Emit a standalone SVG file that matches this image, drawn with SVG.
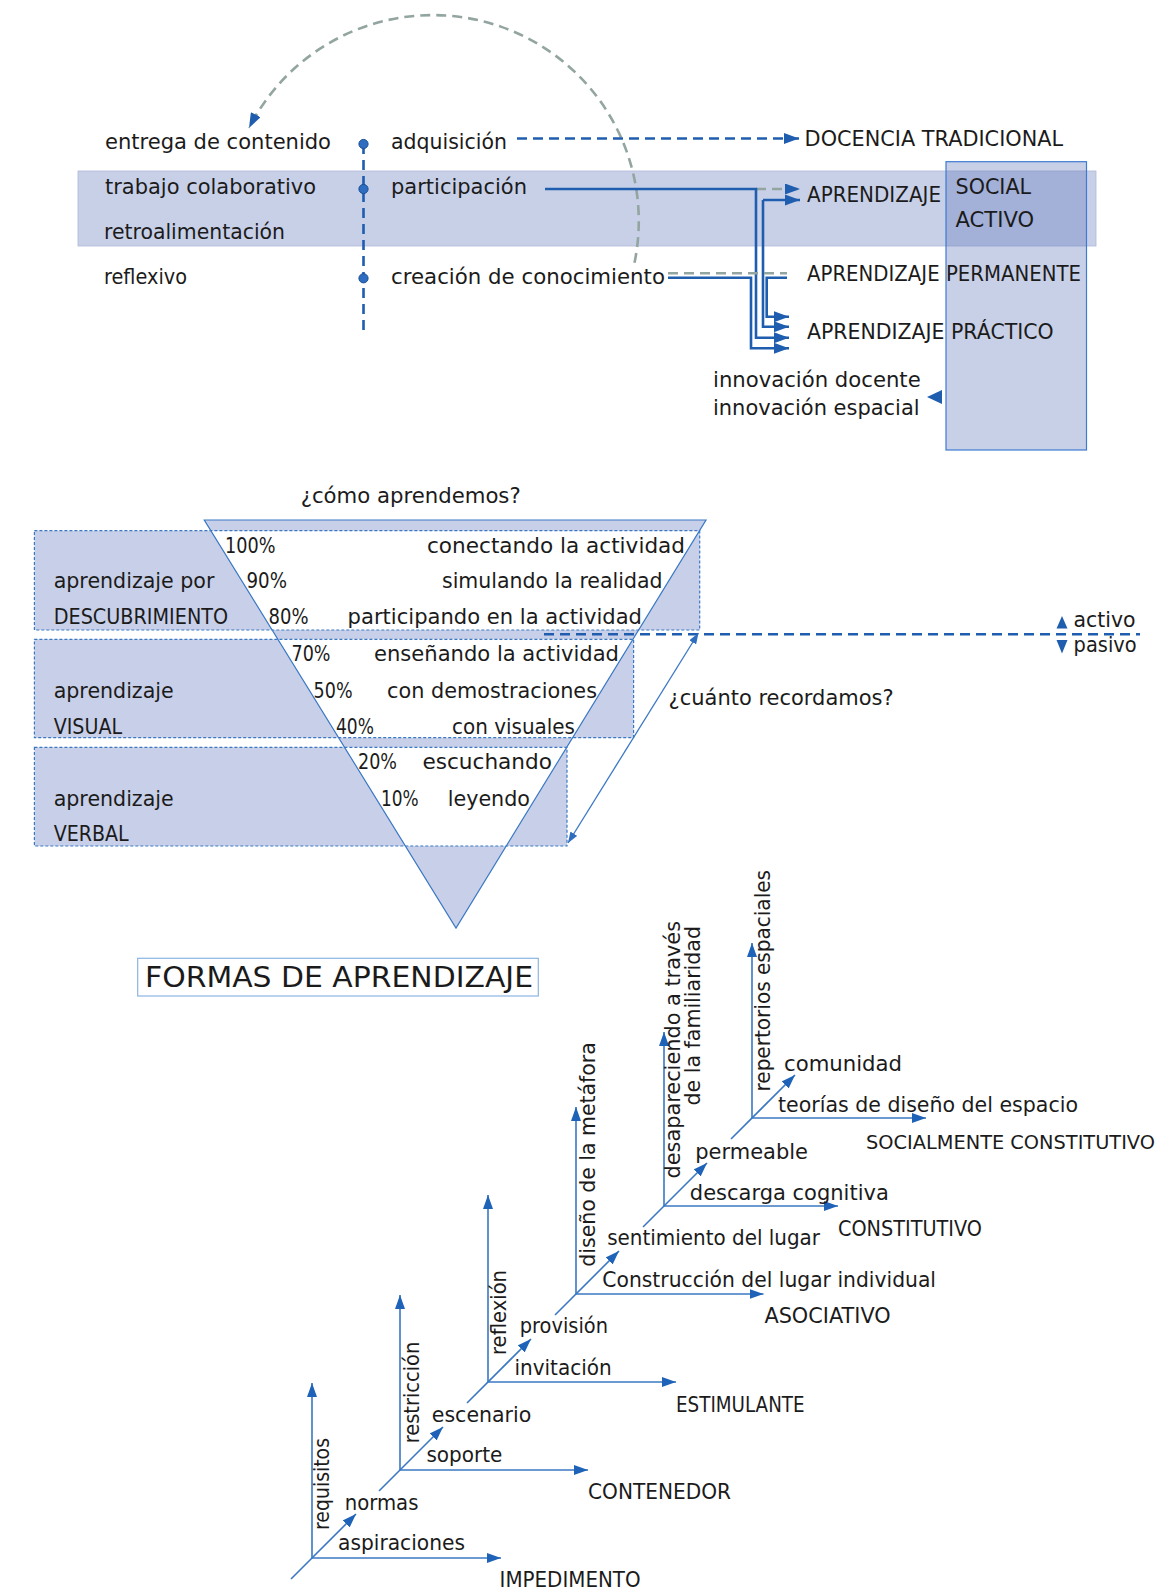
<svg xmlns="http://www.w3.org/2000/svg" width="1167" height="1591" viewBox="0 0 1167 1591">
  <defs>
    <style>
      text { font-family: "DejaVu Sans", "Liberation Sans", sans-serif; font-size: 21px; fill: #1b1b1b; }
      .big { font-size: 29px; }
      .band { fill: #5871B9; fill-opacity: 0.33; }
      .conn { fill: none; stroke: #1F5DAE; stroke-width: 2.6; }
      .dash-b { fill: none; stroke: #1F5DAE; stroke-width: 2.6; stroke-dasharray: 10 6; }
      .dash-g { fill: none; stroke: #93A5A1; stroke-width: 2.6; stroke-dasharray: 10 6; }
      .axis { fill: none; stroke: #3A78C4; stroke-width: 1.6; }
      .thin { fill: none; stroke: #3A78C4; stroke-width: 1.3; }
      .funnel { fill: #C8CFE8; fill-rule: evenodd; stroke: none; }
      .box-d { fill: none; stroke: #3A78C4; stroke-width: 1.2; stroke-dasharray: 3 2; }
      .head { fill: #1F5DAE; }
    </style>
    <marker id="ah" viewBox="0 0 15 11" refX="15" refY="5.5" markerWidth="15" markerHeight="11" markerUnits="userSpaceOnUse" orient="auto">
      <path d="M0,0 L15,5.5 L0,11 Z" fill="#1F5DAE"/>
    </marker>
    <marker id="ab" viewBox="0 0 14 10" refX="14" refY="5" markerWidth="14" markerHeight="10" markerUnits="userSpaceOnUse" orient="auto">
      <path d="M0,0 L14,5 L0,10 Z" fill="#1F63B8"/>
    </marker>
    <marker id="as" viewBox="0 0 11 8" refX="11" refY="4" markerWidth="11" markerHeight="8" markerUnits="userSpaceOnUse" orient="auto-start-reverse">
      <path d="M0,0 L11,4 L0,8 Z" fill="#2F6DBE"/>
    </marker>
  </defs>

  <!-- ===== upper scheme: learning modes ===== -->
  <rect id="band-social" class="band" x="78" y="171" width="1018" height="75" stroke="#AEB7D6" stroke-width="0.8"/>
  <rect id="box-right" class="band" x="946" y="161.7" width="140.5" height="288.3" stroke="#3C7BD0" stroke-width="1.2"/>

  <g id="connectors-top">
    <path class="dash-g" d="M634.5,262.8 A206,206 0 0 0 249,128" marker-end="url(#ah)"/>
    <path class="dash-b" d="M363.5,144 V330" stroke-dasharray="8 5"/>
    <path class="dash-b" d="M517,138.5 H799" marker-end="url(#ah)"/>
    <path class="dash-g" d="M756,189 H800" marker-end="url(#ah)"/>
    <path class="conn" d="M545,189 H756 V337.7 H789" marker-end="url(#ah)"/>
    <path class="conn" d="M763,200 H800" marker-end="url(#ah)"/>
    <path class="conn" d="M763,200 V326.7 H789" marker-end="url(#ah)"/>
    <path class="dash-g" d="M668,273.3 H787"/>
    <path class="conn" d="M668,277.7 H751 V348.3 H789" marker-end="url(#ah)"/>
    <path class="conn" d="M787,277.7 H766.7 V316.7 H789" marker-end="url(#ah)"/>
    <polygon class="head" points="927,397 942,390 942,404"/>
    <circle cx="363.5" cy="144" r="4.6" fill="#2E6DBF" stroke="#1A4F96" stroke-width="1"/>
    <circle cx="363.5" cy="189" r="4.6" fill="#2E6DBF" stroke="#1A4F96" stroke-width="1"/>
    <circle cx="363.5" cy="278.3" r="4.6" fill="#2E6DBF" stroke="#1A4F96" stroke-width="1"/>
  </g>

  <g id="labels-left">
    <text x="105" y="149" textLength="226" lengthAdjust="spacingAndGlyphs">entrega de contenido</text>
    <text x="105" y="194" textLength="211" lengthAdjust="spacingAndGlyphs">trabajo colaborativo</text>
    <text x="104" y="239" textLength="181" lengthAdjust="spacingAndGlyphs">retroalimentación</text>
    <text x="104" y="284" textLength="83" lengthAdjust="spacingAndGlyphs">reflexivo</text>
  </g>
  <g id="labels-mid">
    <text x="391" y="149" textLength="116" lengthAdjust="spacingAndGlyphs">adquisición</text>
    <text x="391" y="194" textLength="136" lengthAdjust="spacingAndGlyphs">participación</text>
    <text x="391" y="283.5" textLength="274" lengthAdjust="spacingAndGlyphs">creación de conocimiento</text>
  </g>
  <g id="node-docencia"><text x="804.6" y="145.7" textLength="258.5" lengthAdjust="spacingAndGlyphs">DOCENCIA TRADICIONAL</text></g>
  <g id="node-social">
    <text x="807" y="201.7" textLength="134" lengthAdjust="spacingAndGlyphs">APRENDIZAJE</text>
    <text x="955.5" y="194" textLength="75.6" lengthAdjust="spacingAndGlyphs">SOCIAL</text>
    <text x="955.5" y="226.7" textLength="78.6" lengthAdjust="spacingAndGlyphs">ACTIVO</text>
  </g>
  <g id="node-permanente"><text x="807" y="281" textLength="274" lengthAdjust="spacingAndGlyphs">APRENDIZAJE PERMANENTE</text></g>
  <g id="node-practico"><text x="807" y="339" textLength="246.6" lengthAdjust="spacingAndGlyphs">APRENDIZAJE PRÁCTICO</text></g>
  <g id="node-innovacion">
    <text x="713" y="386.7" textLength="207.7" lengthAdjust="spacingAndGlyphs">innovación docente</text>
    <text x="713" y="415" textLength="206.6" lengthAdjust="spacingAndGlyphs">innovación espacial</text>
  </g>

  <!-- ===== learning funnel ===== -->
  <g id="funnel">
    <path class="funnel" d="M204.3,520 L706,520 L456,928 Z M34.4,530.7 H699.7 V630 H34.4 Z M34.4,639.3 H633.6 V737.7 H34.4 Z M34.4,747.3 H567 V846 H34.4 Z"/>
    <path d="M204.3,520 L706,520 L456,928 Z" fill="none" stroke="#3A78C4" stroke-width="1.2"/>
    <rect class="box-d" x="34.4" y="530.7" width="665.3" height="99.3"/>
    <rect class="box-d" x="34.4" y="639.3" width="599.2" height="98.4"/>
    <rect class="box-d" x="34.4" y="747.3" width="532.6" height="98.7"/>
  </g>
  <g id="connectors-funnel">
    <path class="dash-b" d="M544,634.3 H1140" stroke-dasharray="10 6"/>
    <path class="thin" d="M568,843 L698.5,633" marker-start="url(#as)" marker-end="url(#as)"/>
    <polygon class="head" points="1056.5,628.5 1067.5,628.5 1062,616"/>
    <polygon class="head" points="1056.5,640 1067.5,640 1062,653.5"/>
  </g>
  <g id="funnel-labels">
    <text x="300.7" y="502.7" textLength="220" lengthAdjust="spacingAndGlyphs">¿cómo aprendemos?</text>
    <text x="225" y="552.7" textLength="50.5" lengthAdjust="spacingAndGlyphs">100%</text>
    <text x="427" y="552.7" textLength="258" lengthAdjust="spacingAndGlyphs">conectando la actividad</text>
    <text x="53.7" y="588.3" textLength="160.7" lengthAdjust="spacingAndGlyphs">aprendizaje por</text>
    <text x="246.5" y="588.3" textLength="40.5" lengthAdjust="spacingAndGlyphs">90%</text>
    <text x="442" y="588.3" textLength="220.5" lengthAdjust="spacingAndGlyphs">simulando la realidad</text>
    <text x="53.7" y="624.3" textLength="174.5" lengthAdjust="spacingAndGlyphs">DESCUBRIMIENTO</text>
    <text x="268.6" y="624.3" textLength="40" lengthAdjust="spacingAndGlyphs">80%</text>
    <text x="347.6" y="624.3" textLength="294.4" lengthAdjust="spacingAndGlyphs">participando en la actividad</text>
    <text x="291.5" y="660.7" textLength="39" lengthAdjust="spacingAndGlyphs">70%</text>
    <text x="374" y="660.7" textLength="245" lengthAdjust="spacingAndGlyphs">enseñando la actividad</text>
    <text x="53.7" y="697.7" textLength="120" lengthAdjust="spacingAndGlyphs">aprendizaje</text>
    <text x="313.6" y="697.7" textLength="39" lengthAdjust="spacingAndGlyphs">50%</text>
    <text x="387" y="697.7" textLength="210" lengthAdjust="spacingAndGlyphs">con demostraciones</text>
    <text x="53.7" y="734" textLength="68.4" lengthAdjust="spacingAndGlyphs">VISUAL</text>
    <text x="336" y="734" textLength="38" lengthAdjust="spacingAndGlyphs">40%</text>
    <text x="452" y="734" textLength="123" lengthAdjust="spacingAndGlyphs">con visuales</text>
    <text x="358" y="769.3" textLength="39" lengthAdjust="spacingAndGlyphs">20%</text>
    <text x="422.4" y="769.3" textLength="129.6" lengthAdjust="spacingAndGlyphs">escuchando</text>
    <text x="53.7" y="805.7" textLength="120" lengthAdjust="spacingAndGlyphs">aprendizaje</text>
    <text x="381" y="805.7" textLength="37.7" lengthAdjust="spacingAndGlyphs">10%</text>
    <text x="447.7" y="805.7" textLength="82.3" lengthAdjust="spacingAndGlyphs">leyendo</text>
    <text x="53.7" y="841" textLength="75" lengthAdjust="spacingAndGlyphs">VERBAL</text>
    <text x="668.6" y="704.5" textLength="225" lengthAdjust="spacingAndGlyphs">¿cuánto recordamos?</text>
    <text x="1073.6" y="627.3" textLength="62" lengthAdjust="spacingAndGlyphs">activo</text>
    <text x="1073.6" y="651.7" textLength="63" lengthAdjust="spacingAndGlyphs">pasivo</text>
  </g>

  <g id="title">
    <rect x="137.7" y="958.3" width="400.6" height="37.7" fill="none" stroke="#8DB4E2" stroke-width="1.2"/>
    <text class="big" x="145" y="986.7" textLength="388" lengthAdjust="spacingAndGlyphs">FORMAS DE APRENDIZAJE</text>
  </g>

  <!-- ===== stepped axes: place types ===== -->
  <g id="connectors-axes">
    <!-- IMPEDIMENTO, origin 312,1558 -->
    <path class="axis" d="M312,1558 V1383" marker-end="url(#ab)"/>
    <path class="axis" d="M312,1558 H501" marker-end="url(#ab)"/>
    <path class="axis" d="M291,1579 L356,1514" marker-end="url(#ab)"/>
    <!-- CONTENEDOR, origin 400,1470 -->
    <path class="axis" d="M400,1470 V1295" marker-end="url(#ab)"/>
    <path class="axis" d="M400,1470 H588" marker-end="url(#ab)"/>
    <path class="axis" d="M379,1491 L443,1427" marker-end="url(#ab)"/>
    <!-- ESTIMULANTE, origin 488,1382 -->
    <path class="axis" d="M488,1382 V1195" marker-end="url(#ab)"/>
    <path class="axis" d="M488,1382 H676" marker-end="url(#ab)"/>
    <path class="axis" d="M467,1403 L531,1339" marker-end="url(#ab)"/>
    <!-- ASOCIATIVO, origin 576,1294 -->
    <path class="axis" d="M576,1294 V1107" marker-end="url(#ab)"/>
    <path class="axis" d="M576,1294 H763.5" marker-end="url(#ab)"/>
    <path class="axis" d="M555,1315 L619,1251" marker-end="url(#ab)"/>
    <!-- CONSTITUTIVO, origin 664,1206 -->
    <path class="axis" d="M664,1206 V1032" marker-end="url(#ab)"/>
    <path class="axis" d="M664,1206 H838" marker-end="url(#ab)"/>
    <path class="axis" d="M643,1227 L707,1163" marker-end="url(#ab)"/>
    <!-- SOCIALMENTE CONSTITUTIVO, origin 752,1118 -->
    <path class="axis" d="M752,1118 V943" marker-end="url(#ab)"/>
    <path class="axis" d="M752,1118 H926" marker-end="url(#ab)"/>
    <path class="axis" d="M731,1139 L795,1075" marker-end="url(#ab)"/>
  </g>

  <g id="axis-impedimento">
    <text x="338" y="1550" textLength="127" lengthAdjust="spacingAndGlyphs">aspiraciones</text>
    <text x="344.7" y="1509.5" textLength="73.7" lengthAdjust="spacingAndGlyphs">normas</text>
    <text x="499.6" y="1586.7" textLength="141" lengthAdjust="spacingAndGlyphs">IMPEDIMENTO</text>
    <text x="329" y="1530" transform="rotate(-90 329 1530)" textLength="92" lengthAdjust="spacingAndGlyphs">requisitos</text>
  </g>
  <g id="axis-contenedor">
    <text x="426.4" y="1461.7" textLength="76" lengthAdjust="spacingAndGlyphs">soporte</text>
    <text x="431.8" y="1421.7" textLength="99.5" lengthAdjust="spacingAndGlyphs">escenario</text>
    <text x="588" y="1499.3" textLength="143" lengthAdjust="spacingAndGlyphs">CONTENEDOR</text>
    <text x="419.5" y="1443.3" transform="rotate(-90 419.5 1443.3)" textLength="101.6" lengthAdjust="spacingAndGlyphs">restricción</text>
  </g>
  <g id="axis-estimulante">
    <text x="514.4" y="1375" textLength="97.3" lengthAdjust="spacingAndGlyphs">invitación</text>
    <text x="519.7" y="1333.3" textLength="88.3" lengthAdjust="spacingAndGlyphs">provisión</text>
    <text x="676" y="1411.7" textLength="128.6" lengthAdjust="spacingAndGlyphs">ESTIMULANTE</text>
    <text x="506" y="1355" transform="rotate(-90 506 1355)" textLength="85" lengthAdjust="spacingAndGlyphs">reflexión</text>
  </g>
  <g id="axis-asociativo">
    <text x="602.3" y="1286.7" textLength="333.7" lengthAdjust="spacingAndGlyphs">Construcción del lugar individual</text>
    <text x="607.2" y="1245" textLength="212.8" lengthAdjust="spacingAndGlyphs">sentimiento del lugar</text>
    <text x="764.4" y="1322.7" textLength="126.3" lengthAdjust="spacingAndGlyphs">ASOCIATIVO</text>
    <text x="595" y="1266.7" transform="rotate(-90 595 1266.7)" textLength="224.5" lengthAdjust="spacingAndGlyphs">diseño de la metáfora</text>
  </g>
  <g id="axis-constitutivo">
    <text x="689.8" y="1200" textLength="199" lengthAdjust="spacingAndGlyphs">descarga cognitiva</text>
    <text x="695.2" y="1159" textLength="112.8" lengthAdjust="spacingAndGlyphs">permeable</text>
    <text x="838" y="1236" textLength="144" lengthAdjust="spacingAndGlyphs">CONSTITUTIVO</text>
    <text x="679.5" y="1178.5" transform="rotate(-90 679.5 1178.5)" textLength="257.5" lengthAdjust="spacingAndGlyphs">desapareciendo a través</text>
    <text x="699.5" y="1105.5" transform="rotate(-90 699.5 1105.5)" textLength="179.5" lengthAdjust="spacingAndGlyphs">de la familiaridad</text>
  </g>
  <g id="axis-socialmente">
    <text x="778" y="1111.7" textLength="300" lengthAdjust="spacingAndGlyphs">teorías de diseño del espacio</text>
    <text x="784" y="1070.7" textLength="118" lengthAdjust="spacingAndGlyphs">comunidad</text>
    <text x="866" y="1149.3" style="font-size:18.8px" textLength="289" lengthAdjust="spacingAndGlyphs">SOCIALMENTE CONSTITUTIVO</text>
    <text x="769.5" y="1091.5" transform="rotate(-90 769.5 1091.5)" textLength="221.5" lengthAdjust="spacingAndGlyphs">repertorios espaciales</text>
  </g>
</svg>
